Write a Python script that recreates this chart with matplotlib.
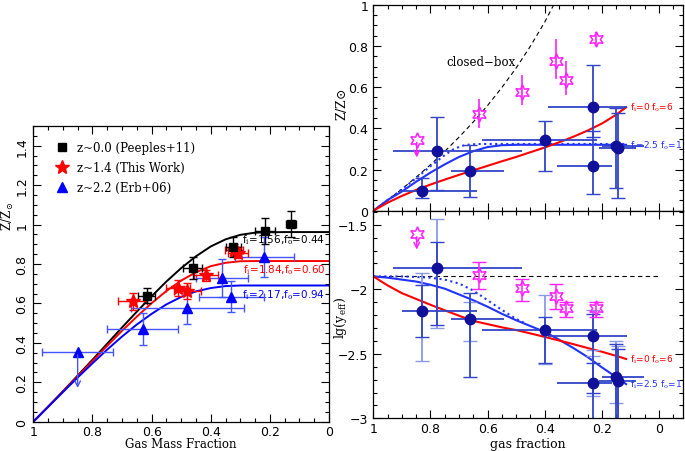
import matplotlib
matplotlib.use("Agg")
import matplotlib.pyplot as plt
from matplotlib import ticker
from matplotlib.lines import Line2D

plt.rcParams['font.family'] = ['DejaVu Serif']
plt.rcParams['mathtext.fontset'] = 'dejavuserif'

# ---------------- left panel : model curves ----------------
gas_frac = [1.0, 0.95, 0.9, 0.85, 0.8, 0.75, 0.7, 0.65, 0.6, 0.55,
            0.5, 0.45, 0.4, 0.35, 0.3, 0.25, 0.2, 0.15, 0.1, 0.0]
model_z00 = [0.0, 0.076, 0.154, 0.234, 0.314, 0.396, 0.478, 0.558, 0.636, 0.711,
             0.779, 0.839, 0.889, 0.925, 0.948, 0.959, 0.961, 0.962, 0.962, 0.962]
model_z14 = [0.0, 0.076, 0.153, 0.230, 0.308, 0.385, 0.461, 0.533, 0.601, 0.663,
             0.716, 0.758, 0.789, 0.806, 0.814, 0.815, 0.815, 0.815, 0.815, 0.815]
model_z22 = [0.0, 0.075, 0.150, 0.224, 0.296, 0.366, 0.432, 0.493, 0.547, 0.595,
             0.633, 0.661, 0.678, 0.688, 0.691, 0.691, 0.691, 0.691, 0.691, 0.691]

# z~0.0 (Peeples+11)
p11_x = [0.617, 0.461, 0.324, 0.216, 0.129]
p11_y = [0.640, 0.780, 0.885, 0.965, 1.003]
p11_xerr = [0.030, 0.033, 0.025, 0.034, 0.017]
p11_yerr = [0.040, 0.055, 0.050, 0.066, 0.068]

# z~1.4 (This Work)
tw_x = [0.664, 0.510, 0.479, 0.416, 0.322, 0.308]
tw_y = [0.611, 0.677, 0.662, 0.743, 0.873, 0.858]
tw_xerr = [0.048, 0.040, 0.045, 0.042, 0.030, 0.034]
tw_yerr = [0.042, 0.040, 0.040, 0.028, 0.030, 0.030]

# z~2.2 (Erb+06), first one is an upper limit
erb_x = [0.630, 0.479, 0.361, 0.331, 0.219]
erb_y = [0.471, 0.576, 0.728, 0.634, 0.836]
erb_xerr = [0.120, 0.190, 0.088, 0.110, 0.100]
erb_yerr = [0.082, 0.078, 0.095, 0.080, 0.100]
erb_lim_x, erb_lim_y, erb_lim_xerr, erb_lim_end = 0.85, 0.352, 0.12, 0.157

# ---------------- right panels ----------------
cb_x = [1.0, 0.95, 0.9, 0.85, 0.8, 0.75, 0.7, 0.65, 0.6, 0.55, 0.5, 0.45, 0.4, 0.36]
cb_z = [0.0, 0.051, 0.105, 0.163, 0.223, 0.288, 0.357, 0.431, 0.511, 0.598, 0.693, 0.799, 0.916, 1.022]

red_x = [1.0, 0.95, 0.9, 0.85, 0.8, 0.75, 0.7, 0.65, 0.6, 0.55,
         0.5, 0.45, 0.4, 0.35, 0.3, 0.25, 0.2, 0.15, 0.115]
red_z = [0.0, 0.039, 0.072, 0.101, 0.127, 0.151, 0.174, 0.196, 0.218, 0.240,
         0.261, 0.284, 0.307, 0.332, 0.359, 0.389, 0.423, 0.466, 0.502]
red_lgy = [-1.900, -1.970, -2.030, -2.075, -2.120, -2.163, -2.205, -2.245, -2.270, -2.295,
           -2.316, -2.342, -2.369, -2.397, -2.425, -2.455, -2.484, -2.516, -2.540]

blue_x = [1.0, 0.95, 0.9, 0.85, 0.8, 0.75, 0.7, 0.65, 0.6, 0.55,
          0.5, 0.45, 0.4, 0.35, 0.3, 0.25, 0.2, 0.15, 0.115]
blue_z = [0.0, 0.052, 0.093, 0.141, 0.185, 0.225, 0.261, 0.289, 0.309, 0.318,
          0.320, 0.320, 0.320, 0.320, 0.320, 0.320, 0.320, 0.320, 0.320]
blue_lgy = [-1.900, -1.910, -1.925, -1.940, -1.965, -1.995, -2.040, -2.085, -2.135, -2.190,
            -2.240, -2.285, -2.330, -2.390, -2.455, -2.525, -2.605, -2.680, -2.735]

dot_x = [1.0, 0.95, 0.9, 0.85, 0.8, 0.75, 0.72, 0.69, 0.66, 0.62, 0.55, 0.4, 0.2, 0.115]
dot_z = [0.0, 0.051, 0.104, 0.158, 0.216, 0.270, 0.298, 0.315, 0.322, 0.324, 0.324, 0.324, 0.324, 0.324]
dotb_x = [1.0, 0.9, 0.85, 0.8, 0.75, 0.7, 0.65, 0.6, 0.55, 0.5, 0.47]
dotb_lgy = [-1.900, -1.900, -1.905, -1.910, -1.925, -1.955, -2.010, -2.085, -2.160, -2.230, -2.262]

lgy_closed_box = -1.9

# blue circles (same gas fractions in both right panels)
gal_x = [0.828, 0.778, 0.660, 0.399, 0.230, 0.230, 0.151, 0.142]
gal_xerr_lo = [0.190, 0.298, 0.119, 0.181, 0.117, 0.064, 0.100, 0.062]   # toward small gas fraction
gal_xerr_hi = [0.072, 0.152, 0.068, 0.222, 0.157, 0.128, 0.050, 0.068]   # toward large gas fraction
gal_z = [0.097, 0.289, 0.193, 0.345, 0.503, 0.217, 0.316, 0.303]
gal_z_lo = [0.037, 0.187, 0.126, 0.150, 0.143, 0.136, 0.207, 0.241]
gal_z_hi = [0.060, 0.168, 0.127, 0.090, 0.205, 0.172, 0.182, 0.172]
gal_lgy = [-2.171, -1.832, -2.231, -2.318, -2.365, -2.727, -2.680, -2.712]
gal_lgy_lo = [0.199, 0.446, 0.452, 0.250, 0.435, 0.400, 0.450, 0.400]
gal_lgy_hi = [0.204, 0.195, 0.200, 0.100, 0.175, 0.157, 0.255, 0.250]
gal_lgy_lo2 = [0.383, 0.470, 0.169, 0.262, 0.105, 0.099, 0.200, 0.340]
gal_lgy_hi2 = [0.297, 0.376, 0.131, 0.273, 0.205, 0.207, 0.280, 0.270]

# magenta stars, the first is an upper limit
mag_x = [0.629, 0.481, 0.361, 0.327, 0.222]
mag_z = [0.470, 0.576, 0.725, 0.635, 0.835]
mag_z_lo = [0.070, 0.062, 0.085, 0.073, 0.029]
mag_z_hi = [0.073, 0.084, 0.110, 0.094, 0.032]
mag_lgy = [-1.888, -1.993, -2.050, -2.148, -2.148]
mag_lgy_lo = [0.110, 0.101, 0.103, 0.065, 0.067]
mag_lgy_hi = [0.096, 0.072, 0.090, 0.051, 0.051]
mag_lim_x = 0.848
mag_lim_z, mag_lim_z_end = 0.345, 0.245
mag_lim_lgy, mag_lim_lgy_end = -1.572, -1.714

DARK = '#10109a'
EBLUE = '#3344c8'
LIGHT = '#8c9ae6'
MAG = '#ff22ff'
LBLUE = '#2233ff'


def style_axes(ax):
    ax.tick_params(which='both', direction='in', top=True, right=True)
    ax.tick_params(which='major', length=6, width=0.8)
    ax.tick_params(which='minor', length=3, width=0.8)
    for lab in ax.get_xticklabels() + ax.get_yticklabels():
        lab.set_family('DejaVu Sans')
    for s in ax.spines.values():
        s.set_linewidth(0.9)


def galaxies(ax, ys, ylo, yhi):
    # x bars without caps, y bars with caps (as in the original)
    ax.errorbar(gal_x, ys, xerr=[gal_xerr_lo, gal_xerr_hi], fmt='none', ecolor=EBLUE,
                elinewidth=1.3, capsize=0)
    ax.errorbar(gal_x, ys, yerr=[ylo, yhi], fmt='o', color=DARK, ecolor=EBLUE,
                ms=7.5, elinewidth=1.3, capsize=5)


fmt_g = ticker.FuncFormatter(lambda v, p: ('%g' % v).replace('-', '\u2212'))

fig = plt.figure(figsize=(6.85, 4.52), dpi=100)

# ================= left panel =================
ax = fig.add_axes([0.0486, 0.0648, 0.4317, 0.6542])
ax.plot(gas_frac, model_z00, color='black', lw=1.4)
ax.plot(gas_frac, model_z14, color='red', lw=1.4)
ax.plot(gas_frac, model_z22, color='blue', lw=1.4)

ax.errorbar(erb_x, erb_y, xerr=erb_xerr, yerr=erb_yerr, fmt='^', color='blue',
            ecolor='#4455ff', ms=7, elinewidth=1.0, capsize=3)
ax.errorbar([erb_lim_x], [erb_lim_y], xerr=[erb_lim_xerr], fmt='^', color='blue',
            ecolor='#4455ff', ms=7, elinewidth=1.0, capsize=3)
ax.annotate('', xy=(erb_lim_x, erb_lim_end), xytext=(erb_lim_x, erb_lim_y),
            arrowprops=dict(arrowstyle='->', color='#4455ff', lw=1.0, mutation_scale=10))
ax.errorbar(tw_x, tw_y, xerr=tw_xerr, yerr=tw_yerr, fmt='*', color='red',
            ms=10, elinewidth=1.0, capsize=3)
ax.errorbar(p11_x, p11_y, xerr=p11_xerr, yerr=p11_yerr, fmt='s', color='black',
            ms=6, elinewidth=1.0, capsize=3)

ax.text(0.012, 0.924, r'f$_{\rm i}$=1.56,f$_{\rm o}$=0.44', color='black', fontsize=7.5,
        ha='right', va='center', family='DejaVu Sans')
ax.text(0.012, 0.772, r'f$_{\rm i}$=1.84,f$_{\rm o}$=0.60', color='red', fontsize=7.5,
        ha='right', va='center', family='DejaVu Sans')
ax.text(0.012, 0.648, r'f$_{\rm i}$=2.17,f$_{\rm o}$=0.94', color='blue', fontsize=7.5,
        ha='right', va='center', family='DejaVu Sans')

handles = [Line2D([], [], ls='none', marker='s', color='black', ms=6),
           Line2D([], [], ls='none', marker='*', color='red', ms=10),
           Line2D([], [], ls='none', marker='^', color='blue', ms=7)]
ax.legend(handles, ['z~0.0 (Peeples+11)', 'z~1.4 (This Work)', 'z~2.2 (Erb+06)'],
          loc='upper left', bbox_to_anchor=(0.04, 0.985), frameon=False, fontsize=8.5,
          handlelength=1.0, handletextpad=0.8, labelspacing=0.6)

ax.set_xlim(1, 0)
ax.set_ylim(0, 1.5)
ax.xaxis.set_major_locator(ticker.MultipleLocator(0.2))
ax.xaxis.set_minor_locator(ticker.MultipleLocator(0.05))
ax.yaxis.set_major_locator(ticker.FixedLocator([0, 0.2, 0.4, 0.6, 0.8, 1.0, 1.2, 1.4]))
ax.yaxis.set_minor_locator(ticker.MultipleLocator(0.05))
ax.xaxis.set_major_formatter(fmt_g)
ax.yaxis.set_major_formatter(fmt_g)
ax.tick_params(axis='y', labelrotation=90, labelsize=9)
ax.tick_params(axis='x', labelsize=9, pad=2.5)
for lab in ax.get_yticklabels():
    lab.set_va('center')
ax.set_xlabel('Gas Mass Fraction', fontsize=8.5, va='top')
ax.xaxis.set_label_coords(0.5, -0.052)
ax.set_ylabel(r'Z/Z$_\odot$', fontsize=8.5)
ax.yaxis.set_label_coords(-0.058, 0.70)
style_axes(ax)

# ================= right top =================
axt = fig.add_axes([0.545, 0.5316, 0.4521, 0.4558])
axt.plot(cb_x, cb_z, color='black', ls=(0, (4, 3)), lw=0.8)
axt.text(0.623, 0.726, 'closed\u2212box', fontsize=8.5, ha='center', va='center')
axt.plot(blue_x, blue_z, color=LBLUE, lw=1.5)
axt.plot(dot_x, dot_z, color=LBLUE, lw=1.5, ls=':')
axt.plot(red_x, red_z, color='red', lw=1.5)
galaxies(axt, gal_z, gal_z_lo, gal_z_hi)
axt.errorbar(mag_x, mag_z, yerr=[mag_z_lo, mag_z_hi], fmt='none', ecolor=MAG, elinewidth=1.2)
axt.plot(mag_x + [mag_lim_x], mag_z + [mag_lim_z], ls='none', marker=(6, 1, 0), ms=11,
         mfc='none', mec=MAG, mew=1.1)
axt.annotate('', xy=(mag_lim_x, mag_lim_z_end), xytext=(mag_lim_x, mag_lim_z),
             arrowprops=dict(arrowstyle='->', color=MAG, lw=1.1, mutation_scale=10))
axt.text(0.1, 0.503, r'f$_{\rm i}$=0 f$_{\rm o}$=6', color='red', fontsize=6.5,
         ha='left', va='center', family='DejaVu Sans')
axt.text(0.1, 0.321, r'f$_{\rm i}$=2.5 f$_{\rm o}$=1', color=LBLUE, fontsize=6.5,
         ha='left', va='center', family='DejaVu Sans')
axt.set_xlim(1, -0.084)
axt.set_ylim(0, 1)
axt.xaxis.set_major_locator(ticker.MultipleLocator(0.2))
axt.xaxis.set_minor_locator(ticker.MultipleLocator(0.05))
axt.yaxis.set_major_locator(ticker.MultipleLocator(0.2))
axt.yaxis.set_minor_locator(ticker.MultipleLocator(0.05))
axt.yaxis.set_major_formatter(fmt_g)
axt.tick_params(labelbottom=False, labelsize=9)
axt.set_ylabel(r'Z/Z$\odot$', fontsize=9)
axt.yaxis.set_label_coords(-0.08, 0.52)
style_axes(axt)

# ================= right bottom =================
axb = fig.add_axes([0.545, 0.0723, 0.4521, 0.4593])
axb.plot([1.0, 0.0], [lgy_closed_box, lgy_closed_box], color='black', ls=(0, (4, 3)), lw=0.8)
axb.plot(blue_x, blue_lgy, color=LBLUE, lw=1.5)
axb.plot(dotb_x, dotb_lgy, color=LBLUE, lw=1.5, ls=':')
axb.plot(red_x, red_lgy, color='red', lw=1.5)
axb.errorbar(gal_x, gal_lgy, yerr=[gal_lgy_lo2, gal_lgy_hi2], fmt='none', ecolor=LIGHT,
             elinewidth=1.3, capsize=5)
galaxies(axb, gal_lgy, gal_lgy_lo, gal_lgy_hi)
axb.errorbar(mag_x, mag_lgy, yerr=[mag_lgy_lo, mag_lgy_hi], fmt='none', ecolor=MAG,
             elinewidth=1.1, capsize=5)
axb.plot(mag_x + [mag_lim_x], mag_lgy + [mag_lim_lgy], ls='none', marker=(6, 1, 0), ms=11,
         mfc='none', mec=MAG, mew=1.1)
axb.annotate('', xy=(mag_lim_x, mag_lim_lgy_end), xytext=(mag_lim_x, mag_lim_lgy),
             arrowprops=dict(arrowstyle='->', color=MAG, lw=1.1, mutation_scale=10))
axb.text(0.1, -2.541, r'f$_{\rm i}$=0 f$_{\rm o}$=6', color='red', fontsize=6.5,
         ha='left', va='center', family='DejaVu Sans')
axb.text(0.1, -2.73, r'f$_{\rm i}$=2.5 f$_{\rm o}$=1', color=LBLUE, fontsize=6.5,
         ha='left', va='center', family='DejaVu Sans')
axb.set_xlim(1, -0.084)
axb.set_ylim(-3, -1.391)
axb.xaxis.set_major_locator(ticker.MultipleLocator(0.2))
axb.xaxis.set_minor_locator(ticker.MultipleLocator(0.05))
axb.yaxis.set_major_locator(ticker.MultipleLocator(0.5))
axb.yaxis.set_minor_locator(ticker.MultipleLocator(0.1))
axb.xaxis.set_major_formatter(fmt_g)
axb.yaxis.set_major_formatter(fmt_g)
axb.tick_params(labelsize=9)
axb.tick_params(axis='x', pad=2.5)
axb.set_xlabel('gas fraction', fontsize=9, va='top')
axb.xaxis.set_label_coords(0.5, -0.092)
axb.set_ylabel(r'lg(y$_{\rm eff}$)', fontsize=9)
axb.yaxis.set_label_coords(-0.08, 0.49)
style_axes(axb)

fig.savefig('out.png', dpi=100)
